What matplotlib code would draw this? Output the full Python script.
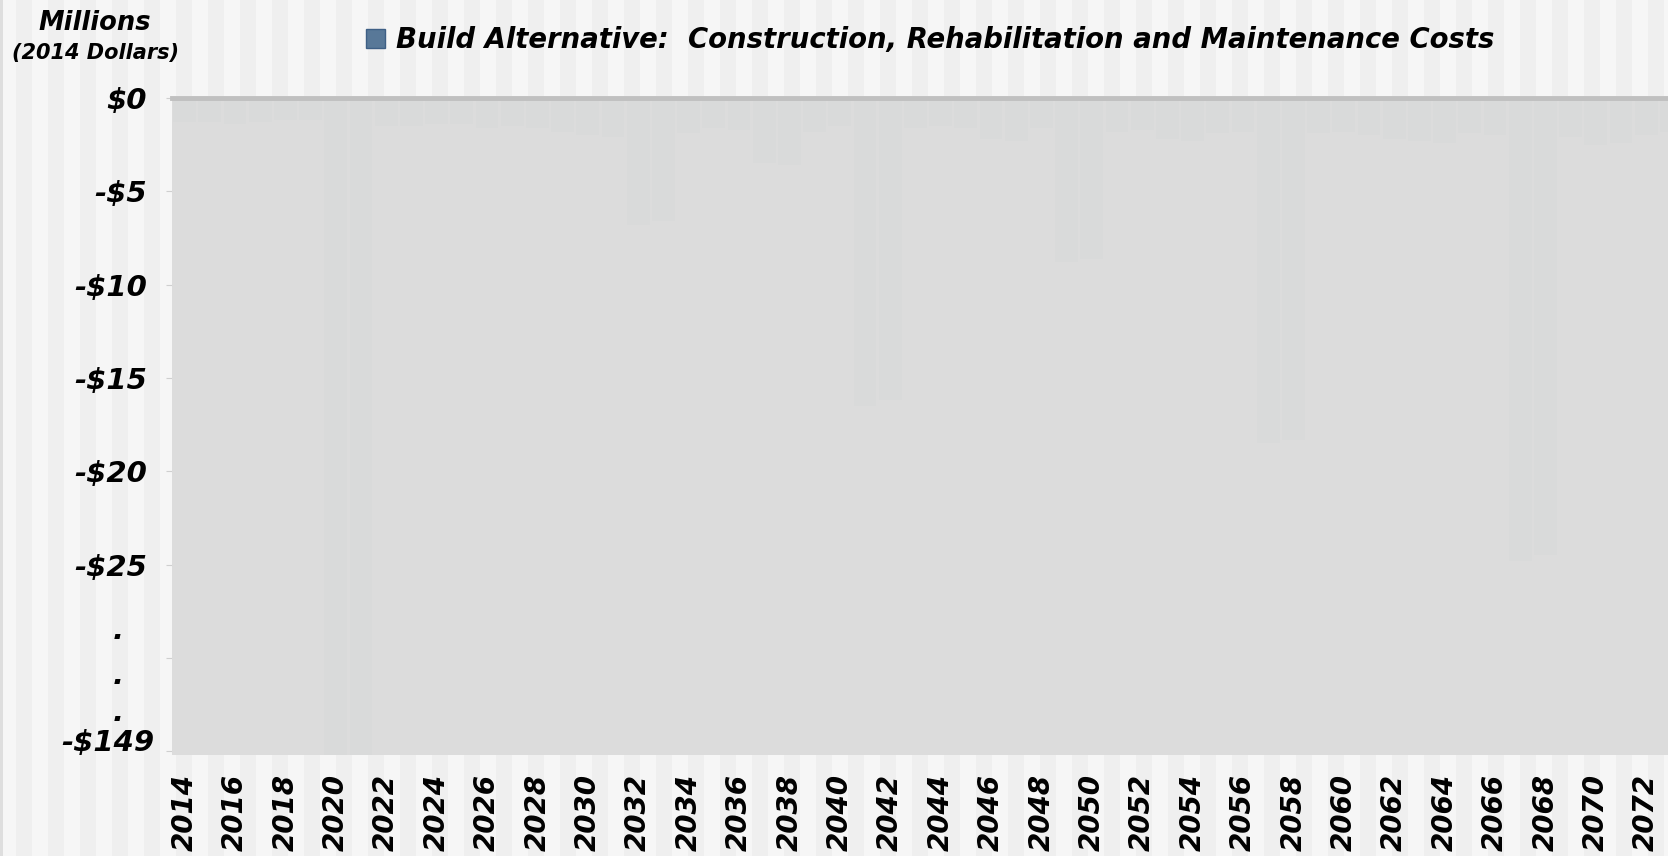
import matplotlib
matplotlib.use('Agg')
import matplotlib.pyplot as plt
from matplotlib.patches import Rectangle

years = list(range(2014, 2074))
costs = [-1.3, -1.3, -1.4, -1.3, -1.2, -1.2, -149.0, -80.0, -1.5, -1.5,
         -1.4, -1.4, -1.6, -1.5, -1.6, -1.8, -2.0, -2.1, -6.8, -6.6,
         -1.9, -1.6, -1.7, -3.5, -3.6, -1.8, -1.5, -16.5, -16.2, -1.6,
         -1.5, -1.6, -2.2, -2.3, -1.6, -8.8, -8.6, -1.8, -1.7, -2.2,
         -2.3, -1.9, -1.8, -18.5, -18.3, -1.9, -1.8, -2.0, -2.2, -2.3,
         -2.4, -1.9, -2.0, -24.8, -24.5, -2.1, -2.5, -2.4, -2.0, -1.8]
ytick_vals = [0, -5, -10, -15, -20, -25, -30, -35]
ytick_labels = ['$0', '-$5', '-$10', '-$15', '-$20', '-$25', '', '']
series_name = 'Build Alternative:  Construction, Rehabilitation and Maintenance Costs'

W, H = 1668, 856
font = dict(family='DejaVu Sans', weight='bold', style='italic')

fig = plt.figure(figsize=(W / 100, H / 100), dpi=100, facecolor='#f6f6f6')

# striped slide background
bg = fig.add_axes([0, 0, 1, 1], zorder=-10)
bg.set_xlim(0, W)
bg.set_ylim(0, H)
for x in range(16, W, 32):
    bg.axvspan(x, x + 16, color='#efefef', lw=0)
bg.axvspan(0, 3, color='#dedede', lw=0)
bg.axis('off')

ax = fig.add_axes([172 / W, 101 / H, 1 - 172 / W, 657 / H])
ax.set_facecolor('#dcdcdc')
bars = ax.bar(years, costs, width=0.9, color='#587898', linewidth=0, zorder=2)
# grey cover hiding the bars (slide build)
ax.add_patch(Rectangle((0, 0), 1, 1, transform=ax.transAxes, facecolor='#dcdcdc',
                       alpha=0.985, lw=0, zorder=3))

ax.set_xlim(2013.5, 2013.5 + 1496 / 25.2)
ax.set_ylim(-35.2, 0)

for s in ['right', 'bottom', 'left']:
    ax.spines[s].set_visible(False)
ax.spines['top'].set_color('#c0c0c0')
ax.spines['top'].set_linewidth(3.5)
ax.spines['top'].set_zorder(5)

ax.set_xticks(years[::2])
ax.set_xticklabels([str(y) for y in years[::2]], rotation=90, fontsize=20, **font)
ax.tick_params(axis='x', length=0, pad=14)

ax.set_yticks(ytick_vals)
ax.set_yticklabels(ytick_labels, fontsize=21, **font)
ax.tick_params(axis='y', length=4, color='#cfcfcf', direction='out', pad=14)

# broken-axis hint
for yv in [-28.5, -30.9, -32.9]:
    fig.text(118 / W, 1 - (98 + 18.7 * -yv) / H, '.', fontsize=21, ha='center',
             va='center', **font)
fig.text(154 / W, 1 - 743 / H, '-$149', fontsize=21, ha='right', va='center', **font)

fig.text(95 / W, 1 - 23 / H, 'Millions', fontsize=18.5, ha='center', va='center', **font)
fig.text(95 / W, 1 - 53 / H, '(2014 Dollars)', fontsize=15, ha='center', va='center', **font)

leg = fig.legend([bars], [series_name], loc='center left',
                 bbox_to_anchor=(341 / W, 1 - 40 / H), frameon=False,
                 handlelength=0.7, handleheight=0.7, handletextpad=0.4,
                 prop=dict(size=19.8, **font))
leg.legend_handles[0].set_edgecolor('#3e5f85')
leg.legend_handles[0].set_linewidth(1)

fig.savefig('out.png', dpi=100, facecolor=fig.get_facecolor())
